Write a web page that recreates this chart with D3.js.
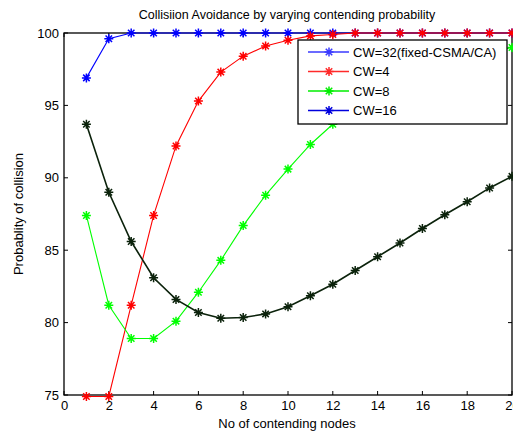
<!DOCTYPE html>
<html>
<head>
<meta charset="utf-8">
<script src="https://cdn.jsdelivr.net/npm/d3@7"></script>
<style>
  html, body { margin: 0; padding: 0; background: #fff; }
  svg { display: block; }
  text { font-family: "Liberation Sans", Arial, sans-serif; fill: #000; }
</style>
</head>
<body>
<svg id="chart" width="513" height="432"></svg>
<script>
// ---- data ----
const nodes = [1,2,3,4,5,6,7,8,9,10,11,12,13,14,15,16,17,18,19,20];
const cw32 = [96.9,99.6,100,100,100,100,100,100,100,100,100,100,100,100,100,100,100,100,100,100];
const cw4  = [74.9,74.9,81.2,87.4,92.2,95.3,97.3,98.4,99.1,99.5,99.8,99.9,100,100,100,100,100,100,100,100];
const cw8  = [87.4,81.2,78.9,78.9,80.1,82.1,84.3,86.7,88.8,90.6,92.3,93.7,94.9,95.9,96.7,97.4,97.9,98.4,98.7,99.0];
const cw16 = [93.7,89.0,85.6,83.1,81.6,80.7,80.3,80.35,80.6,81.1,81.85,82.65,83.6,84.55,85.5,86.5,87.45,88.35,89.3,90.1];
const seriesNames = ["CW=32(fixed-CSMA/CA)","CW=4","CW=8","CW=16"];
const xTicks = [0,2,4,6,8,10,12,14,16,18,20];
const yTicks = [75,80,85,90,95,100];
const titleText = "Collisiion Avoidance by varying contending probability";
const xLabel = "No of contending nodes";
const yLabel = "Probablity of collision";

// ---- layout ----
const svg = d3.select("#chart");
const L = 64, R = 512, T = 33, B = 395;
const x = d3.scaleLinear().domain([0,20]).range([L,R]);
const y = d3.scaleLinear().domain([75,100]).range([B,T]);

const series = [
  {name: seriesNames[0], values: cw32, color: "#0000ff", legendColor: "#3a3aff"},
  {name: seriesNames[1], values: cw4,  color: "#ff0000", legendColor: "#ff2a2a"},
  {name: seriesNames[2], values: cw8,  color: "#00ff00", legendColor: "#00ee00"},
  {name: seriesNames[3], values: cw16, color: "#0b220b", legendColor: "#0000dd"}
];

// axes box
const fs = 13;
// bottom axis
const gx = svg.append("g").attr("transform", `translate(0,${B})`)
  .call(d3.axisBottom(x).tickValues(xTicks).tickSize(0).tickPadding(6).tickFormat(d3.format("d")));
gx.select(".domain").remove();
gx.selectAll("text").style("font-size", fs + "px").style("font-family", '"Liberation Sans", Arial, sans-serif').attr("fill", "#000");
// left axis
const gy = svg.append("g").attr("transform", `translate(${L},0)`)
  .call(d3.axisLeft(y).tickValues(yTicks).tickSize(0).tickPadding(5).tickFormat(d3.format("d")));
gy.select(".domain").remove();
gy.selectAll("text").style("font-size", fs + "px").style("font-family", '"Liberation Sans", Arial, sans-serif').attr("fill", "#000");

// inward ticks
const tl = 4;
const tickG = svg.append("g").attr("stroke", "#000").attr("stroke-width", 1);
xTicks.forEach(t => {
  tickG.append("line").attr("x1", x(t)).attr("x2", x(t)).attr("y1", B).attr("y2", B - tl);
  tickG.append("line").attr("x1", x(t)).attr("x2", x(t)).attr("y1", T).attr("y2", T + tl);
});
yTicks.forEach(t => {
  tickG.append("line").attr("x1", L).attr("x2", L + tl).attr("y1", y(t)).attr("y2", y(t));
  tickG.append("line").attr("x1", R).attr("x2", R - tl).attr("y1", y(t)).attr("y2", y(t));
});

// box
svg.append("rect").attr("x", L).attr("y", T).attr("width", R - L).attr("height", B - T)
  .attr("fill", "none").attr("stroke", "#000").attr("stroke-width", 1.3);

// marker path (asterisk: plus + x)
function starPath(r) {
  const d = r * 0.72;
  return `M${-r},0L${r},0M0,${-r}L0,${r}M${-d},${-d}L${d},${d}M${-d},${d}L${d},${-d}`;
}
const line = d3.line().x((d, i) => x(nodes[i])).y(d => y(d));

series.forEach(s => {
  const g = svg.append("g");
  g.append("path").datum(s.values).attr("d", line)
    .attr("fill", "none").attr("stroke", s.color).attr("stroke-width", s === series[3] ? 1.6 : 1.1);
  g.selectAll("path.m").data(s.values).enter().append("path").attr("class", "m")
    .attr("transform", (d, i) => `translate(${x(nodes[i])},${y(d)})`)
    .attr("d", starPath(4.5)).attr("fill", "none").attr("stroke", s.color).attr("stroke-width", 1.5);
});

// legend
const lg = svg.append("g");
const lx = 298, ly = 40, lw = 209, lh = 84;
lg.append("rect").attr("x", lx).attr("y", ly).attr("width", lw).attr("height", lh)
  .attr("fill", "#fff").attr("stroke", "#000").attr("stroke-width", 1.3);
series.forEach((s, i) => {
  const ry = ly + 12 + i * 19.5;
  lg.append("line").attr("x1", lx + 10).attr("x2", lx + 51).attr("y1", ry).attr("y2", ry)
    .attr("stroke", s.legendColor).attr("stroke-width", 1.3);
  lg.append("path").attr("transform", `translate(${lx + 31},${ry})`).attr("d", starPath(4.5))
    .attr("fill", "none").attr("stroke", s.legendColor).attr("stroke-width", 1.5);
  lg.append("text").attr("x", lx + 55).attr("y", ry).attr("dy", "0.36em")
    .style("font-size", fs + "px").text(s.name);
});

// title & labels
svg.append("text").attr("x", 287).attr("y", 19).attr("text-anchor", "middle")
  .style("font-size", "12.5px").text(titleText);
svg.append("text").attr("x", 287).attr("y", 428).attr("text-anchor", "middle")
  .style("font-size", fs + "px").text(xLabel);
svg.append("text").attr("transform", `translate(23,214) rotate(-90)`).attr("text-anchor", "middle")
  .style("font-size", fs + "px").text(yLabel);
</script>
</body>
</html>
